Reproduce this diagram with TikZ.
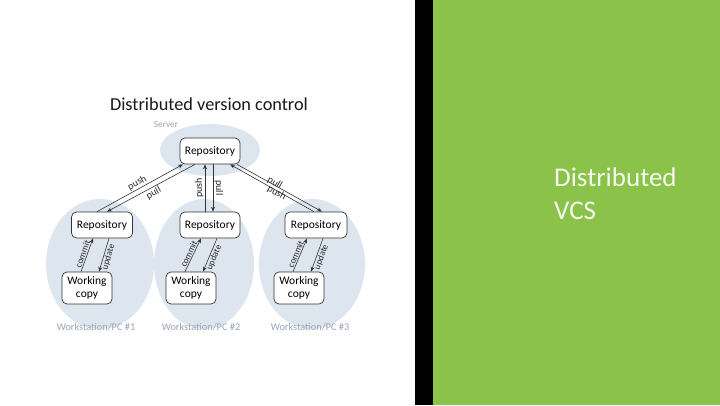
\documentclass[tikz,border=0pt]{standalone}
\usepackage{fontspec}
\setmainfont{Carlito}
\usetikzlibrary{arrows.meta,calc}
\definecolor{slidegreen}{HTML}{8BC34A}
\definecolor{blobfill}{HTML}{DDE6EF}
\definecolor{graytxt}{HTML}{9AA5B5}
\definecolor{linecol}{HTML}{333333}
\definecolor{softwhite}{HTML}{F4F8EE}
\tikzset{
  blob/.style={fill=blobfill, draw=none},
  repobox/.style={draw=linecol, line width=0.7pt, fill=white, rounded corners=5pt,
    minimum width=60pt, minimum height=26pt, inner sep=1pt, font=\fontsize{11.5}{13}\selectfont},
  wcbox/.style={draw=linecol, line width=0.7pt, fill=white, rounded corners=5pt,
    minimum width=50pt, minimum height=32pt, inner sep=1pt, align=center,
    font=\fontsize{11.5}{13}\selectfont},
  conn/.style={draw=linecol, line width=0.6pt, -{Stealth[length=5pt,width=4pt]}},
  lbl/.style={font=\fontsize{10}{11}\selectfont, inner sep=1.2pt, text=black!85},
  slbl/.style={font=\fontsize{9}{10}\selectfont, inner sep=0.8pt, text=black!85},
  gtxt/.style={font=\fontsize{10.3}{11}\selectfont, text=graytxt},
}
\begin{document}
\begin{tikzpicture}[x=1pt,y=-1pt]
\useasboundingbox (0,0) rectangle (720,405);
\fill[white] (0,0) rectangle (415,405);
\fill[black] (415,0) rectangle (433,405);
\fill[slidegreen] (433,0) rectangle (720,405);

\node[font=\fontsize{18.3}{21}\selectfont, text=black!90] (title) at (209,104) {Distributed version control};
\node[gtxt, font=\fontsize{9.3}{10}\selectfont] (srvlbl) at (166,125) {Server};

% ellipses
\fill[blob] (210,150) ellipse [x radius=50, y radius=26];
\fill[blob] (100,264) ellipse [x radius=54, y radius=65];
\fill[blob] (204,264) ellipse [x radius=50, y radius=65];
\fill[blob] (312,264) ellipse [x radius=53, y radius=65];

% boxes
\node[repobox] (srv) at (210,151) {Repository};
\node[repobox, minimum width=61pt] (r1) at (102,225) {Repository};
\node[repobox] (r2) at (210,225) {Repository};
\node[repobox, minimum width=62pt] (r3) at (316,225) {Repository};
\node[wcbox] (w1) at (87,288) {Working\\copy};
\node[wcbox] (w2) at (191,288) {Working\\copy};
\node[wcbox] (w3) at (299,288) {Working\\copy};

% server <-> workstation 1
\draw[conn] ([xshift=-5pt]r1.north) -- node[lbl, sloped, above] {push} ([xshift=-27pt]srv.south);
\draw[conn] ([xshift=-15pt]srv.south) -- node[lbl, sloped, below] {pull} ([xshift=5pt]r1.north);
% server <-> workstation 2
\draw[conn] ([xshift=-5pt]r2.north) -- node[lbl, rotate=90, anchor=south] {push} ([xshift=-5pt]srv.south);
\draw[conn] ([xshift=3pt]srv.south) -- node[lbl, rotate=-90, anchor=south] {pull} ([xshift=3pt]r2.north);
% server <-> workstation 3
\draw[conn] ([xshift=-2pt]r3.north) -- node[lbl, sloped, above] {pull} ([xshift=20pt]srv.south);
\draw[conn] ([xshift=27pt]srv.south) -- node[lbl, sloped, below] {push} ([xshift=6pt]r3.north);

% commit / update
\foreach \w/\r in {w1/r1, w2/r2, w3/r3}{
  \draw[conn] ([xshift=-6pt]\w.north) -- node[slbl, sloped, above, pos=0.48] {commit} ([xshift=-9pt]\r.south);
  \draw[conn] ([xshift=7pt]\r.south) -- node[slbl, sloped, below, pos=0.52] {update} ([xshift=12pt]\w.north);
}

\node[gtxt] (ws1) at (96,327) {Workstation/PC \#1};
\node[gtxt] (ws2) at (201,327) {Workstation/PC \#2};
\node[gtxt] (ws3) at (310,327) {Workstation/PC \#3};

\node[anchor=north west, inner sep=0pt, align=left, text=softwhite,
  font=\fontsize{27}{33}\selectfont] (side) at (554,168) {Distributed\\VCS};
\end{tikzpicture}
\end{document}
